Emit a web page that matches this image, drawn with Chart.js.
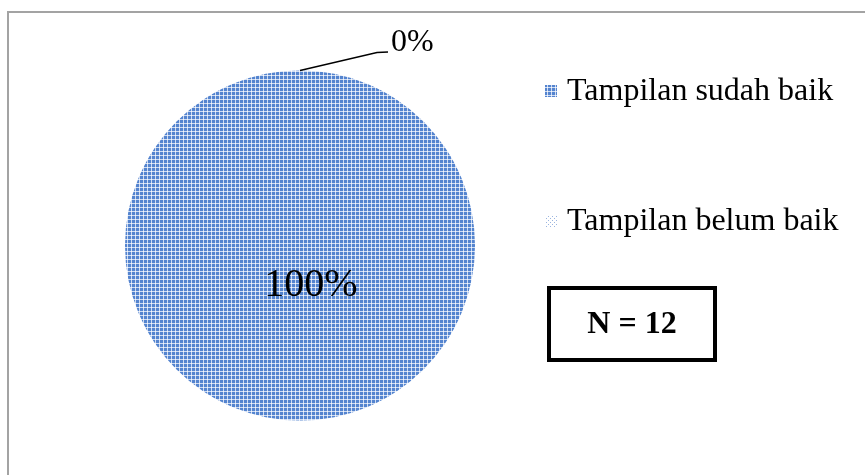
<!DOCTYPE html>
<html>
<head>
<meta charset="utf-8">
<script src="https://cdn.jsdelivr.net/npm/chart.js@4/dist/chart.umd.min.js"></script>
<style>
  html, body { margin: 0; padding: 0; background: #fff; }
  #wrap { width: 865px; height: 475px; position: relative; }
</style>
</head>
<body>
<div id="wrap"><canvas id="c" width="865" height="475"></canvas></div>
<script>
// Survey answers on the display quality
const categories = ['Tampilan sudah baik', 'Tampilan belum baik'];
const respondents = [12, 0];

const total = respondents.reduce((a, b) => a + b, 0);
const percents = respondents.map(v => Math.round(v / total * 100));

const SERIF = '"Liberation Serif", "Times New Roman", serif';

// Fill patterns: dense blue grid and sparse light-blue dots
function gridPattern() {
  const t = document.createElement('canvas');
  t.width = 4; t.height = 4;
  const g = t.getContext('2d');
  g.fillStyle = '#cfdcf2';
  g.fillRect(0, 0, 4, 4);
  g.fillStyle = '#5484cf';
  g.fillRect(0, 0, 3, 3);
  g.fillStyle = '#f4f7fc';
  g.fillRect(3, 3, 1, 1);
  return g.createPattern(t, 'repeat');
}
function dotPattern() {
  const t = document.createElement('canvas');
  t.width = 4; t.height = 4;
  const g = t.getContext('2d');
  g.fillStyle = '#ffffff';
  g.fillRect(0, 0, 4, 4);
  g.fillStyle = '#9bb5e0';
  g.fillRect(0, 0, 1, 1);
  g.fillRect(2, 2, 1, 1);
  return g.createPattern(t, 'repeat');
}
const fills = [gridPattern(), dotPattern()];

const decorations = {
  id: 'decorations',
  afterDatasetsDraw(chart) {
    const ctx = chart.ctx;
    const arcs = chart.getDatasetMeta(0).data;
    ctx.save();

    // frame
    ctx.strokeStyle = '#a3a3a3';
    ctx.lineWidth = 2;
    ctx.strokeRect(8, 12, 900, 500);

    ctx.fillStyle = '#000';
    ctx.textBaseline = 'middle';

    arcs.forEach((arc, i) => {
      const p = arc.getProps(['x', 'y', 'startAngle', 'endAngle', 'outerRadius']);
      const mid = (p.startAngle + p.endAngle) / 2;
      const label = percents[i] + '%';
      if (percents[i] >= 50) {
        // inside label
        ctx.font = '40px ' + SERIF;
        ctx.textAlign = 'center';
        const r = p.outerRadius * 0.23;
        ctx.fillText(label, p.x + Math.cos(mid) * r + 11, p.y + Math.sin(mid) * r);
      } else {
        // outside label with leader line
        const sx = p.x + Math.cos(mid) * p.outerRadius;
        const sy = p.y + Math.sin(mid) * p.outerRadius;
        ctx.strokeStyle = '#000';
        ctx.lineWidth = 1.3;
        ctx.beginPath();
        ctx.moveTo(sx, sy);
        ctx.lineTo(sx + 77, sy - 18);
        ctx.lineTo(sx + 88, sy - 18.5);
        ctx.stroke();
        ctx.font = '32px ' + SERIF;
        ctx.textAlign = 'left';
        ctx.fillText(label, sx + 91, sy - 28);
      }
    });

    // legend
    const rows = [91, 221];
    categories.forEach((name, i) => {
      ctx.fillStyle = fills[i];
      ctx.fillRect(545, rows[i] - 6, 12, 12);
      ctx.fillStyle = '#000';
      ctx.font = '32px ' + SERIF;
      ctx.textAlign = 'left';
      ctx.fillText(name, 567, rows[i] + 1);
    });

    // sample size box
    ctx.strokeStyle = '#000';
    ctx.lineWidth = 4;
    ctx.strokeRect(549, 288, 166, 72);
    ctx.font = 'bold 32px ' + SERIF;
    ctx.textAlign = 'center';
    ctx.fillText('N = ' + total, 632, 325);

    ctx.restore();
  }
};

new Chart(document.getElementById('c'), {
  type: 'pie',
  data: {
    labels: categories,
    datasets: [{
      data: respondents,
      backgroundColor: fills,
      borderWidth: 0
    }]
  },
  options: {
    responsive: false,
    animation: false,
    layout: { padding: { top: 70, bottom: 54, left: 125, right: 390 } },
    plugins: {
      legend: { display: false },
      tooltip: { enabled: false }
    }
  },
  plugins: [decorations]
});
</script>
</body>
</html>
